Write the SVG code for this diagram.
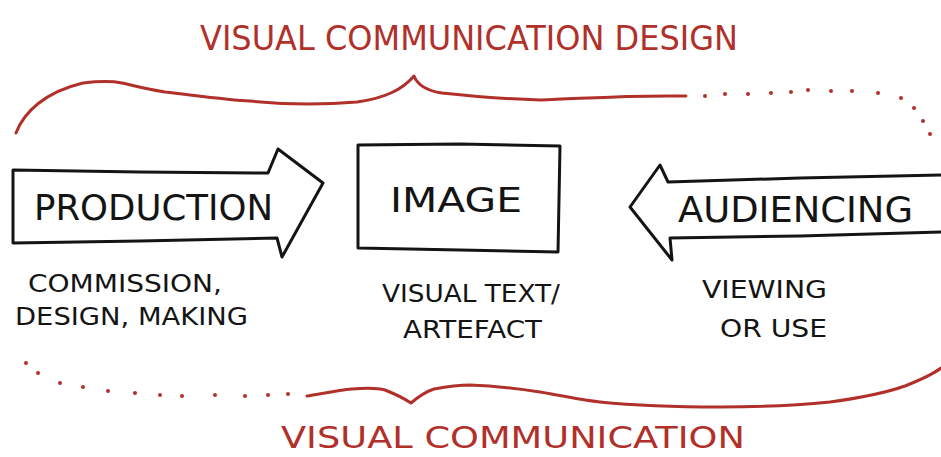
<svg xmlns="http://www.w3.org/2000/svg" width="941" height="457" viewBox="0 0 941 457">
  <style>
    .red-line { fill: none; stroke: #b1302a; stroke-width: 3; stroke-linecap: round; stroke-linejoin: round; }
    .dot { fill: #b1302a; }
    .shape { fill: #ffffff; stroke: #141414; stroke-width: 3; stroke-linejoin: round; }
    .ink { font-family: "DejaVu Sans", "Liberation Sans", sans-serif; fill: #141414; }
    .red-ink { font-family: "DejaVu Sans", "Liberation Sans", sans-serif; fill: #b1302a; }
    .big { font-size: 36px; }
    .small { font-size: 25px; }
    .title { font-size: 34px; }
    .footer { font-size: 32px; }
  </style>

  <rect width="941" height="457" fill="#ffffff"/>

  <!-- upper brace: visual communication design -->
  <g id="top-brace">
    <path class="red-line" d="M16,133 C24,112 45,92 83,83 C100,81 112,81 122,83 C135,86 145,89 165,92 C200,96 230,100 250,101 C280,104 320,105 357,102 C385,98 402,90 414,76 C418,86 428,91 442,93 C470,96 500,99 540,100 C580,99 620,95 686,96"/>
    <g class="dot">
      <circle cx="705" cy="96" r="2"/>
      <circle cx="725" cy="94" r="2"/>
      <circle cx="748" cy="94" r="2"/>
      <circle cx="771" cy="93" r="2"/>
      <circle cx="791" cy="92" r="2"/>
      <circle cx="808" cy="90" r="2"/>
      <circle cx="831" cy="91" r="2"/>
      <circle cx="852" cy="91" r="2"/>
      <circle cx="878" cy="93" r="2"/>
      <circle cx="901" cy="98" r="2"/>
      <circle cx="914" cy="108" r="2"/>
      <circle cx="923" cy="121" r="2"/>
      <circle cx="930" cy="134" r="2"/>
    </g>
  </g>

  <!-- lower brace: visual communication -->
  <g id="bottom-brace">
    <g class="dot">
      <circle cx="26" cy="363" r="2"/>
      <circle cx="38" cy="373" r="2"/>
      <circle cx="60" cy="383" r="2"/>
      <circle cx="83" cy="387" r="2"/>
      <circle cx="108" cy="391" r="2"/>
      <circle cx="135" cy="393" r="2"/>
      <circle cx="160" cy="395" r="2"/>
      <circle cx="182" cy="396" r="2"/>
      <circle cx="215" cy="395" r="2"/>
      <circle cx="245" cy="396" r="2"/>
      <circle cx="268" cy="395" r="2"/>
      <circle cx="288" cy="394" r="2"/>
    </g>
    <path class="red-line" d="M307,396 C325,393 340,390 352,389 C365,388 378,388 385,390 C395,394 405,399 411,403 C418,397 425,392 434,389 C450,386 460,385 470,385 C500,386 520,389 540,392 C565,396 580,400 600,402 C640,406 680,407 720,407 C770,407 800,405 830,402 C860,398 885,393 905,386 C920,380 932,375 941,368"/>
  </g>

  <!-- connectors: the three stages sit side by side, arrows point at the image -->
  <g id="connectors"/>

  <g id="production">
    <path class="shape" d="M13,170 L140,172 L268,173 L278,149 L323,183 L282,257 L277,238 L140,241 L13,243 Z"/>
    <text class="ink big" x="34" y="220" textLength="239" lengthAdjust="spacingAndGlyphs">PRODUCTION</text>
    <text class="ink small" x="28" y="292" textLength="194" lengthAdjust="spacingAndGlyphs">COMMISSION,</text>
    <text class="ink small" x="15" y="325" textLength="233" lengthAdjust="spacingAndGlyphs">DESIGN, MAKING</text>
  </g>

  <g id="image">
    <path class="shape" d="M358,145 L460,144 L560,146 L558,252 L460,250 L358,248 Z"/>
    <text class="ink title" x="390" y="212" textLength="132" lengthAdjust="spacingAndGlyphs">IMAGE</text>
    <text class="ink small" x="382" y="302" textLength="178" lengthAdjust="spacingAndGlyphs">VISUAL TEXT/</text>
    <text class="ink small" x="403" y="338" textLength="139" lengthAdjust="spacingAndGlyphs">ARTEFACT</text>
  </g>

  <g id="audiencing">
    <path class="shape" d="M943,175 L800,178 L668,182 L660,165 L630,207 L672,260 L670,238 L800,236 L943,232 Z"/>
    <text class="ink big" x="678" y="222" textLength="235" lengthAdjust="spacingAndGlyphs">AUDIENCING</text>
    <text class="ink small" x="702" y="298" textLength="125" lengthAdjust="spacingAndGlyphs">VIEWING</text>
    <text class="ink small" x="720" y="337" textLength="107" lengthAdjust="spacingAndGlyphs">OR USE</text>
  </g>

  <!-- red headings -->
  <g id="labels">
    <text class="red-ink footer" x="200" y="50" textLength="538" lengthAdjust="spacingAndGlyphs" style="font-size:34px">VISUAL COMMUNICATION DESIGN</text>
    <text class="red-ink footer" x="281" y="448" textLength="464" lengthAdjust="spacingAndGlyphs" style="font-size:31px">VISUAL COMMUNICATION</text>
  </g>
</svg>
